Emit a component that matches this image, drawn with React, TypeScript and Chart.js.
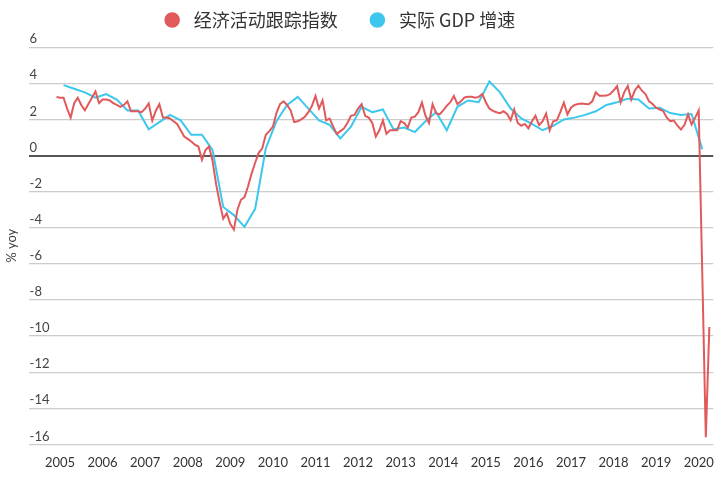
import React, { useEffect, useRef } from "react";
import { Chart, registerables } from "chart.js";

Chart.register(...registerables);

// X-axis year labels
const yearLabels = ["2005","2006","2007","2008","2009","2010","2011","2012","2013","2014","2015","2016","2017","2018","2019","2020"];

// Economic activity tracker, monthly (Jan 2005 – May 2020), % yoy
const red2005 = [3.25, 3.2, 3.2, 2.6, 2.1, 2.9, 3.2, 2.8, 2.5, 2.85, 3.2, 3.55];
const red2006 = [2.9, 3.1, 3.1, 3.05, 2.9, 2.8, 2.7, 2.8, 3.0, 2.45, 2.45, 2.45];
const red2007 = [2.4, 2.6, 2.88, 1.93, 2.48, 2.84, 2.1, 2.1, 2.05, 1.9, 1.75, 1.4];
const red2008 = [1.05, 0.92, 0.78, 0.6, 0.5, -0.24, 0.3, 0.5, -0.3, -1.6, -2.6, -3.5];
const red2009 = [-3.2, -3.8, -4.1, -3.0, -2.45, -2.3, -1.7, -1.0, -0.4, 0.15, 0.4, 1.15];
const red2010 = [1.35, 1.6, 2.35, 2.85, 3.0, 2.8, 2.5, 1.85, 1.9, 2.0, 2.15, 2.4];
const red2011 = [2.75, 3.3, 2.6, 3.05, 1.95, 2.05, 1.6, 1.2, 1.35, 1.5, 1.8, 2.2];
const red2012 = [2.25, 2.6, 2.85, 2.2, 2.1, 1.8, 1.05, 1.4, 1.95, 1.2, 1.4, 1.4];
const red2013 = [1.4, 1.9, 1.8, 1.55, 2.1, 2.15, 2.4, 2.93, 2.2, 1.8, 2.85, 2.35];
const red2014 = [2.28, 2.5, 2.75, 2.95, 3.3, 2.85, 3.0, 3.22, 3.25, 3.25, 3.2, 3.25];
const red2015 = [3.4, 2.95, 2.6, 2.47, 2.4, 2.35, 2.45, 2.3, 1.95, 2.55, 1.8, 1.65];
const red2016 = [1.75, 1.5, 1.9, 2.2, 1.68, 1.9, 2.32, 1.4, 1.9, 1.95, 2.4, 2.93];
const red2017 = [2.28, 2.65, 2.8, 2.85, 2.88, 2.86, 2.84, 3.0, 3.5, 3.31, 3.31, 3.32];
const red2018 = [3.4, 3.6, 3.85, 2.95, 3.5, 3.85, 3.1, 3.6, 3.87, 3.59, 3.4, 3.0];
const red2019 = [2.85, 2.65, 2.55, 2.47, 2.1, 1.9, 1.94, 1.65, 1.44, 1.7, 2.28, 1.72];
const red2020 = [2.1, 2.5, -6.5, -15.6, -9.5];

// Real GDP growth, quarterly (2005Q1 – 2020Q1), % yoy
const gdpValues = [
  3.9, 3.7, 3.5, 3.2,
  3.4, 3.1, 2.5, 2.5,
  1.45, 1.85, 2.25, 1.95,
  1.15, 1.15, 0.3, -2.85,
  -3.3, -3.95, -2.95, 0.4,
  1.9, 2.8, 3.25, 2.6,
  1.95, 1.7, 0.95, 1.6,
  2.7, 2.4, 2.55, 1.45,
  1.55, 1.3, 1.9, 2.4,
  1.4, 2.7, 3.05, 2.95,
  4.1, 3.5, 2.6, 2.05,
  1.75, 1.4, 1.65, 2.0,
  2.1, 2.25, 2.45, 2.8,
  2.95, 3.15, 3.1, 2.6,
  2.65, 2.35, 2.25, 2.3,
  0.35,
];

const yTicks = [6, 4, 2, 0, -2, -4, -6, -8, -10, -12, -14, -16];

const redName = "经济活动跟踪指数";
const blueName = "实际 GDP 增速";

const RED = "#e05a5c";
const BLUE = "#3cc7ec";

export default function App() {
  const canvasRef = useRef<HTMLCanvasElement | null>(null);

  useEffect(() => {
    if (!canvasRef.current) return;
    const redAll = [
      ...red2005, ...red2006, ...red2007, ...red2008, ...red2009, ...red2010,
      ...red2011, ...red2012, ...red2013, ...red2014, ...red2015, ...red2016,
      ...red2017, ...red2018, ...red2019, ...red2020,
    ];
    // x unit: months since Jan 2005
    const redPoints = redAll.map((v, i) => ({ x: i, y: v }));
    const bluePoints = gdpValues.map((v, i) => ({ x: 3 * i + 2, y: v }));

    const chart = new Chart(canvasRef.current, {
      type: "line",
      data: {
        datasets: [
          {
            label: redName,
            data: redPoints,
            borderColor: RED,
            backgroundColor: RED,
            borderWidth: 2,
            pointRadius: 0,
            tension: 0,
          },
          {
            label: blueName,
            data: bluePoints,
            borderColor: BLUE,
            backgroundColor: BLUE,
            borderWidth: 2,
            pointRadius: 0,
            tension: 0,
          },
        ],
      },
      options: {
        animation: false,
        responsive: false,
        maintainAspectRatio: false,
        layout: { padding: { top: 2, left: 3, right: 10, bottom: 0 } },
        plugins: {
          tooltip: { enabled: false },
          // empty spacer between legend and plot area
          title: {
            display: true,
            text: "",
            position: "top",
            weight: 500,
            padding: { top: 0, bottom: 7 },
            font: { size: 1 },
          },
          legend: {
            position: "top",
            align: "center",
            labels: {
              usePointStyle: true,
              pointStyle: "circle",
              boxWidth: 18,
              boxHeight: 11,
              padding: 9,
              color: "#333",
              font: { family: "'Noto Sans CJK SC', sans-serif", size: 18 },
              generateLabels: (c: any) => {
                const items = Chart.defaults.plugins.legend.labels.generateLabels(c);
                items.forEach((it: any, idx: number) => {
                  it.lineWidth = 0;
                  it.text = idx === 0
                    ? "\u2009" + it.text + "\u3000\u2009"
                    : "\u2009" + it.text + "\u3000\u3000\u2009";
                });
                return items;
              },
            },
          },
        },
        scales: {
          x: {
            type: "linear",
            min: -7.85,
            max: 185.1,
            grid: { display: false, drawTicks: false },
            border: { display: false },
            afterBuildTicks: (scale: any) => {
              scale.ticks = yearLabels.map((_, k) => ({ value: 12 * k + 1 }));
            },
            ticks: {
              padding: 11,
              color: "#333",
              font: { family: "Lato", size: 13 },
              maxRotation: 0,
              autoSkip: false,
              callback: (value: any) => {
                const k = Math.round((Number(value) - 1) / 12);
                return yearLabels[k] ?? "";
              },
            },
          },
          y: {
            min: -16,
            max: 6,
            afterBuildTicks: (scale: any) => {
              scale.ticks = yTicks.map((v) => ({ value: v }));
            },
            grid: {
              drawTicks: false,
              color: (ctx: any) => (ctx.tick && ctx.tick.value === 0 ? "#555" : "#cccccc"),
              lineWidth: (ctx: any) => (ctx.tick && ctx.tick.value === 0 ? 2 : 1.3),
            },
            border: { display: false },
            ticks: {
              mirror: true,
              padding: 1,
              labelOffset: -8,
              color: "#444",
              font: { family: "Lato", size: 13 },
            },
            title: {
              display: true,
              text: "% yoy",
              color: "#444",
              padding: { top: 1, bottom: 7 },
              font: { family: "Lato", size: 13 },
            },
          },
        },
      },
    });
    return () => chart.destroy();
  }, []);

  return (
    <div style={{ position: "absolute", left: 0, top: 0, width: 725, height: 482, background: "#fff" }}>
      <canvas ref={canvasRef} width={725} height={482} style={{ display: "block" }} />
    </div>
  );
}
